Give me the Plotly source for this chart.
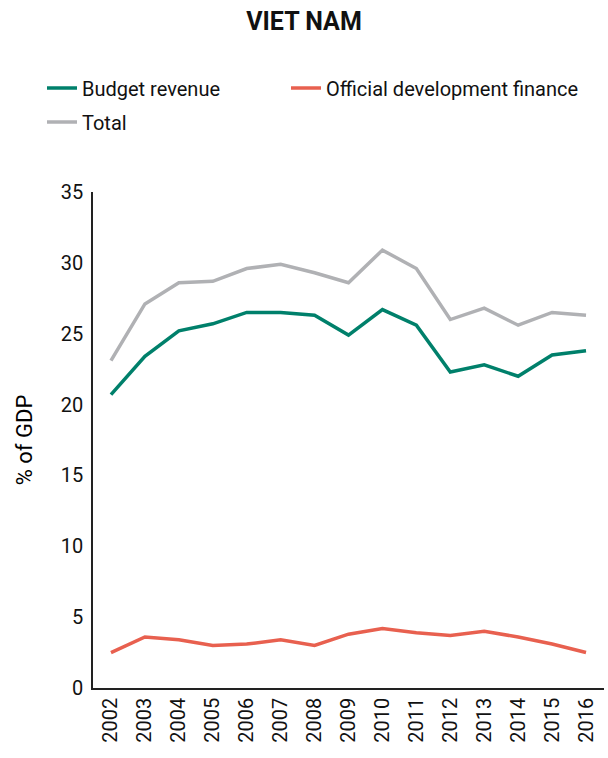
import plotly.graph_objects as go

years = [2002, 2003, 2004, 2005, 2006, 2007, 2008, 2009, 2010, 2011, 2012, 2013, 2014, 2015, 2016]
budget_revenue = [20.7, 23.4, 25.2, 25.7, 26.5, 26.5, 26.3, 24.9, 26.7, 25.6, 22.3, 22.8, 22.0, 23.5, 23.8]
official_dev_finance = [2.5, 3.6, 3.4, 3.0, 3.1, 3.4, 3.0, 3.8, 4.2, 3.9, 3.7, 4.0, 3.6, 3.1, 2.5]
total = [23.1, 27.1, 28.6, 28.7, 29.6, 29.9, 29.3, 28.6, 30.9, 29.6, 26.0, 26.8, 25.6, 26.5, 26.3]

FONT = "Roboto, Liberation Sans, sans-serif"

# name, values, colour, which legend box
series = [
    ("Budget revenue", budget_revenue, "#00806b", "legend"),
    ("Official development finance", official_dev_finance, "#e8604f", "legend3"),
    ("Total", total, "#b0b1b4", "legend2"),
]

fig = go.Figure()
for name, vals, color, leg in series:
    fig.add_trace(go.Scatter(
        x=years, y=vals, name=name, mode="lines", legend=leg,
        line=dict(color=color, width=3.5),
    ))

legend_common = dict(orientation="h", xref="container", yref="container",
                     xanchor="left", yanchor="middle", font=dict(size=20),
                     bgcolor="rgba(0,0,0,0)")

fig.update_layout(
    width=608, height=758,
    margin=dict(l=93, r=4, t=192, b=70),
    plot_bgcolor="white", paper_bgcolor="white",
    font=dict(family=FONT, size=20, color="#111"),
    title=dict(text="<b>VIET NAM</b>", x=0.5, xanchor="center", y=0.972, yanchor="middle",
               font=dict(size=25, color="#111")),
    showlegend=True,
    legend=dict(legend_common, x=42 / 608, y=1 - 88 / 758),
    legend3=dict(legend_common, x=286 / 608, y=1 - 88 / 758),
    legend2=dict(legend_common, x=42 / 608, y=1 - 122 / 758),
    xaxis=dict(range=[2001.47, 2016.53], tickvals=years, ticktext=[str(y) for y in years],
               tickangle=-90, showgrid=False, zeroline=False, automargin=False,
               showline=True, linecolor="#222", linewidth=1.5, ticks=""),
    yaxis=dict(range=[0, 35], tickvals=[0, 5, 10, 15, 20, 25, 30, 35], automargin=False,
               showgrid=False, zeroline=False, showline=True, linecolor="#222",
               linewidth=1.5, ticks="", ticklabelstandoff=4,
               title=dict(text="% of GDP", font=dict(size=22, color="#000"), standoff=22)),
)

# drop the page's default body margin so the figure sits at the window corner
fig.write_html("out.html", config={"displayModeBar": False},
               post_script="document.body.style.margin='0';")
